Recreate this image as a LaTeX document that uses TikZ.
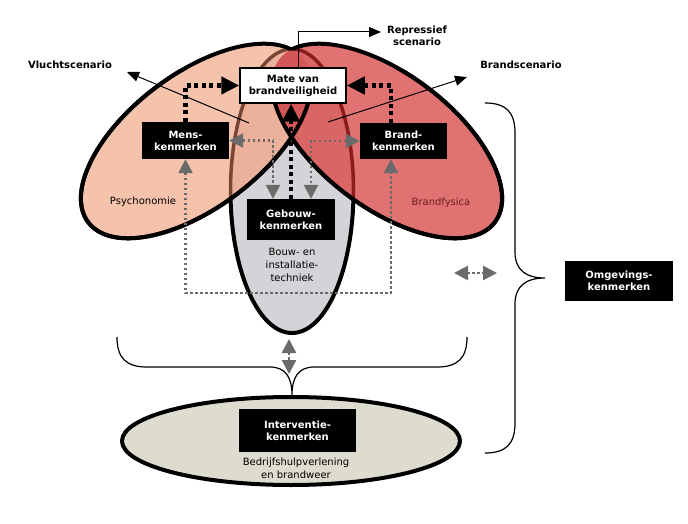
\documentclass[tikz,border=0pt]{standalone}
\usepackage{fontspec}
\setmainfont{DejaVu Sans}
\usetikzlibrary{arrows.meta}
\definecolor{peach}{HTML}{F5C2AC}
\definecolor{peachdk}{HTML}{EBB19B}
\definecolor{redf}{HTML}{E07272}
\definecolor{redg}{HTML}{DA6565}
\definecolor{redt}{HTML}{D45757}
\definecolor{greyf}{HTML}{D4D4D8}
\definecolor{beige}{HTML}{DEDCCE}
\definecolor{arrgrey}{HTML}{6A6A6A}
\definecolor{brownl}{HTML}{7A4535}
\definecolor{darkredl}{HTML}{8A1C1C}
\definecolor{fysica}{HTML}{6E1E1E}
\begin{document}
\begin{tikzpicture}[x=1pt,y=-1pt,
  kbox/.style={fill=black,text=white,font=\fontsize{10}{12}\selectfont\bfseries,align=center,inner sep=0pt},
  lbl/.style={font=\fontsize{10}{12}\selectfont\bfseries,align=center,inner sep=0pt},
  plain/.style={font=\fontsize{10}{13}\selectfont,align=center,inner sep=0pt},
  blackdot/.style={line width=4.5pt,dash pattern=on 4pt off 3.5pt,-{Triangle[length=18pt,width=17pt]}},
  greydot/.style={arrgrey,line width=2.5pt,dash pattern=on 2.5pt off 2.5pt,{Triangle[length=14pt,width=14pt]}-{Triangle[length=14pt,width=14pt]}},
  thinarrow/.style={line width=1pt,-{Triangle[length=12pt,width=10pt]}},
  brace/.style={line width=1.2pt},
  ell/.style={line width=4pt}
]
\useasboundingbox (0,0) rectangle (688,524);

% vertical (building) ellipse
\draw[ell,fill=greyf] (292,191) ellipse [x radius=61.5,y radius=142];

% left ellipse
\fill[peach,rotate around={37:(196,141)}] (196,141) ellipse [x radius=135,y radius=67];
\begin{scope}
  \clip[rotate around={37:(196,141)}] (196,141) ellipse [x radius=135,y radius=67];
  \fill[peachdk] (292,191) ellipse [x radius=61.5,y radius=142];
  \draw[brownl,line width=3.5pt] (292,191) ellipse [x radius=61.5,y radius=142];
\end{scope}

% right ellipse
\fill[redf,rotate around={-37:(387,141)}] (387,141) ellipse [x radius=135,y radius=67];
\begin{scope}
  \clip[rotate around={-37:(387,141)}] (387,141) ellipse [x radius=135,y radius=67];
  \fill[redg] (292,191) ellipse [x radius=61.5,y radius=142];
  \begin{scope}
    \clip[rotate around={37:(196,141)}] (196,141) ellipse [x radius=135,y radius=67];
    \fill[redt] (292,191) ellipse [x radius=61.5,y radius=142];
  \end{scope}
  \draw[darkredl,line width=3.5pt] (292,191) ellipse [x radius=61.5,y radius=142];
\end{scope}

% outlines of the two tilted ellipses (inner top parts hidden)
\begin{scope}[even odd rule]
  \clip[rotate around={-37:(387,141)}] (-700,-700) rectangle (1500,1500) (387,141) ellipse [x radius=135,y radius=67];
  \draw[ell,rotate around={37:(196,141)}] (196,141) ellipse [x radius=135,y radius=67];
\end{scope}
\begin{scope}[even odd rule]
  \clip[rotate around={37:(196,141)}] (-700,-700) rectangle (1500,1500) (196,141) ellipse [x radius=135,y radius=67];
  \draw[ell,rotate around={-37:(387,141)}] (387,141) ellipse [x radius=135,y radius=67];
\end{scope}
\begin{scope}
  \clip (0,70) rectangle (688,524);
  \draw[ell,rotate around={37:(196,141)}] (196,141) ellipse [x radius=135,y radius=67];
  \draw[ell,rotate around={-37:(387,141)}] (387,141) ellipse [x radius=135,y radius=67];
\end{scope}

% intervention ellipse
\draw[ell,fill=beige] (291,441) ellipse [x radius=169,y radius=44];

% boxes
\node[draw=black,line width=1.5pt,fill=white,font=\fontsize{10}{12}\selectfont\bfseries,align=center,inner sep=0pt,minimum width=106pt,minimum height=35pt] (mate) at (293,85.5) {Mate van\\brandveiligheid};
\node[kbox,minimum width=87pt,minimum height=37pt] (mens) at (185.5,140.5) {Mens-\\kenmerken};
\node[kbox,minimum width=87pt,minimum height=36pt] (brand) at (403.5,141) {Brand-\\kenmerken};
\node[kbox,minimum width=88pt,minimum height=41pt] (gebouw) at (291,219.5) {Gebouw-\\kenmerken};
\node[kbox,minimum width=108pt,minimum height=40pt] (omg) at (619,281) {Omgevings-\\kenmerken};
\node[kbox,minimum width=117pt,minimum height=43pt] (interv) at (297.5,430.5) {Interventie-\\kenmerken};

% labels
\node[lbl] (vlucht) at (70,65) {Vluchtscenario};
\node[lbl] (repr) at (417,36) {Repressief\\scenario};
\node[lbl] (brandsc) at (521,65) {Brandscenario};
\node[plain] (psych) at (143,202) {Psychonomie};
\node[plain,text=fysica] (fys) at (441,203) {Brandfysica};
\node[plain] (bouw) at (292,265) {Bouw- en\\installatie-\\techniek};
\node[plain] (bhv) at (296,468) {Bedrijfshulpverlening\\en brandweer};

% thin scenario arrows
\coordinate (repTip) at (381,32);
\draw[thinarrow] ([xshift=5pt]mate.north) |- (repTip);
\coordinate (vS) at (249,123);
\coordinate (vT) at (127,72);
\draw[thinarrow] (vS) -- (vT);
\coordinate (bS) at (328,122);
\coordinate (bT) at (467,77);
\draw[thinarrow] (bS) -- (bT);

% thick black dotted arrows
\draw[blackdot] (mens.north) |- (mate.west);
\draw[blackdot] ([xshift=-12.5pt]brand.north) |- (mate.east);
\draw[blackdot] (gebouw.north) -- (gebouw.north |- mate.south);

% grey dotted arrows
\draw[greydot] (mens.east) -| ([xshift=-18pt]gebouw.north);
\draw[greydot] (brand.west) -| ([xshift=20pt]gebouw.north);
\coordinate (loop) at (291,293);
\draw[greydot] (mens.south) |- (loop) -| ([xshift=-12.5pt]brand.south);
\coordinate (oL) at (454,273);
\coordinate (oR) at (497,273);
\draw[greydot] (oL) -- (oR);
\coordinate (iA) at (289,339);
\coordinate (iB) at (289,374);
\draw[greydot] (iA) -- (iB);

% braces
\draw[brace] (117,337) .. controls (117,358) and (126,367) .. (147,367) -- (270,367)
  .. controls (286,367) and (292,378) .. (292,395)
  .. controls (292,378) and (298,367) .. (314,367) -- (437,367)
  .. controls (458,367) and (467,358) .. (467,337);
\draw[brace] (485,103) .. controls (506,103) and (515,112) .. (515,133) -- (515,252)
  .. controls (515,270) and (526,278) .. (545,278)
  .. controls (526,278) and (515,286) .. (515,304) -- (515,423)
  .. controls (515,444) and (506,453) .. (485,453);
\end{tikzpicture}
\end{document}
